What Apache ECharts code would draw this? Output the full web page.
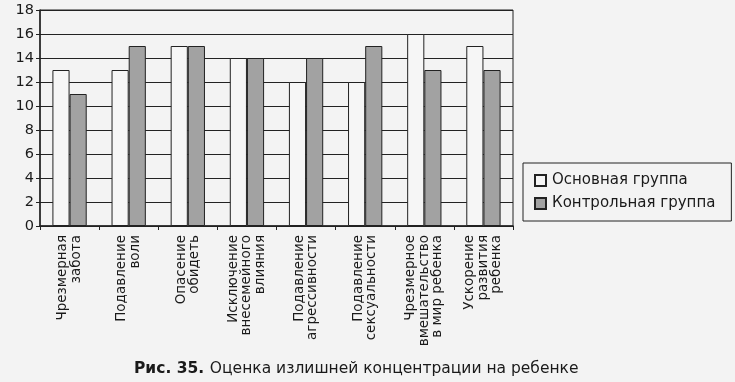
<!DOCTYPE html>
<html><head><meta charset="utf-8">
<script src="https://cdn.jsdelivr.net/npm/echarts@6/dist/echarts.min.js"></script>
<style>html,body{margin:0;padding:0;background:#f3f3f3}#c{width:735px;height:382px}</style>
</head><body><div id="c"></div>
<script>
const categories = [
  "Чрезмерная\nзабота",
  "Подавление\nволи",
  "Опасение\nобидеть",
  "Исключение\nвнесемейного\nвлияния",
  "Подавление\nагрессивности",
  "Подавление\nсексуальности",
  "Чрезмерное\nвмешательство\nв мир ребенка",
  "Ускорение\nразвития\nребенка"
];
const mainGroup = [13, 13, 15, 14, 12, 12, 16, 15];
const controlGroup = [11, 15, 15, 14, 14, 15, 13, 13];
const seriesNames = ["Основная группа", "Контрольная группа"];

const FONT = 'DejaVu Sans';
const chart = echarts.init(document.getElementById('c'));
chart.setOption({
  backgroundColor: '#f3f3f3',
  animation: false,
  textStyle: { fontFamily: FONT },
  title: {
    text: '{b|Рис. 35.} {r|Оценка излишней концентрации на ребенке}',
    left: 129, top: 355,
    textStyle: {
      fontWeight: 'normal',
      rich: {
        b: { fontWeight: 'bold', fontSize: 15.5, color: '#1a1a1a', fontFamily: FONT },
        r: { fontWeight: 'normal', fontSize: 15.5, color: '#1a1a1a', fontFamily: FONT }
      }
    }
  },
  legend: {
    orient: 'vertical',
    left: 523, top: 163,
    padding: [10, 16, 10, 11],
    itemGap: 8,
    itemWidth: 11, itemHeight: 11,
    icon: 'rect',
    backgroundColor: '#f3f3f3',
    borderColor: '#222', borderWidth: 1,
    textStyle: { fontSize: 15, color: '#1a1a1a', fontFamily: FONT, padding: [0, 0, 0, 1] },
    data: seriesNames
  },
  grid: {
    left: 40, right: 222, top: 10, bottom: 156,
    show: true, borderColor: '#222', borderWidth: 1, backgroundColor: 'transparent'
  },
  xAxis: {
    type: 'category',
    data: categories,
    axisLine: { lineStyle: { color: '#222', width: 1.5 } },
    axisTick: { show: true, length: 4, lineStyle: { color: '#222' } },
    axisLabel: {
      rotate: 90, interval: 0, fontSize: 13.5, lineHeight: 13.5, color: '#1a1a1a',
      fontFamily: FONT, margin: 9
    }
  },
  yAxis: {
    type: 'value', min: 0, max: 18, interval: 2,
    axisLine: { show: true, lineStyle: { color: '#222', width: 1.5 } },
    axisTick: { show: true, length: 4, lineStyle: { color: '#222' } },
    axisLabel: { fontSize: 14.5, color: '#1a1a1a', fontFamily: FONT, margin: 6 },
    splitLine: { lineStyle: { color: '#222', width: 1.2 } }
  },
  series: [
    {
      name: seriesNames[0], type: 'bar', data: mainGroup,
      barGap: '0%', barCategoryGap: '42%',
      itemStyle: { color: '#f6f6f6', borderColor: '#222', borderWidth: 1 }
    },
    {
      name: seriesNames[1], type: 'bar', data: controlGroup,
      itemStyle: { color: '#a2a2a2', borderColor: '#222', borderWidth: 1 }
    }
  ]
});
</script></body></html>
